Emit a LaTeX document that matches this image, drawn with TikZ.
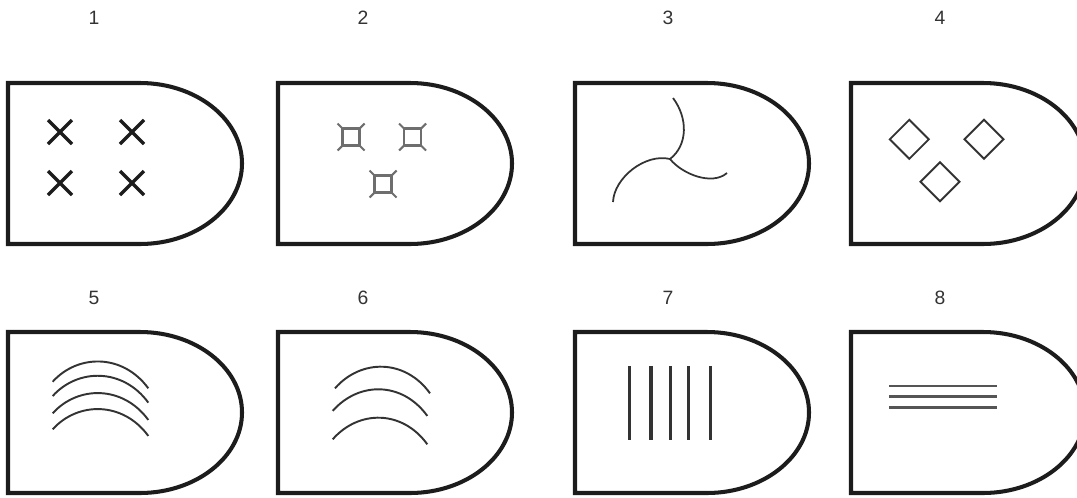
\documentclass[tikz,border=0pt]{standalone}
\usepackage{fontspec}
\setmainfont{Liberation Sans}
\definecolor{ink}{HTML}{1C1C1C}
\definecolor{dkgray}{HTML}{333333}
\definecolor{midgray}{HTML}{6E6E6E}
\definecolor{lngray}{HTML}{555555}

\begin{document}
\begin{tikzpicture}[
  x=0.02cm, y=-0.02cm,
  outline/.style={ink, line width=2.3pt, line join=miter},
  crossline/.style={ink, line width=1.9pt},
  squareline/.style={midgray, line width=1.2pt},
  thinline/.style={dkgray, line width=1.0pt},
  barline/.style={dkgray, line width=1.8pt},
  numlabel/.style={font=\fontsize{11}{13}\selectfont, text=dkgray},
  capsule/.pic={
    \draw[outline] (0,0) -- (132,0) .. controls (188,0) and (234,36) .. (234,80.5)
      .. controls (234,125) and (188,161) .. (132,161) -- (0,161) -- cycle;
  },
]

% Frame
\path[use as bounding box] (0,0) rectangle (1077,497);
\clip (0,0) rectangle (1077,497);

% Outlines
\foreach \sx in {8,278,575,851}
  \foreach \sy in {83,332}
    \pic at (\sx,\sy) {capsule};

% Numbers
\node[numlabel] (lab1) at (94,18) {1};
\node[numlabel] (lab2) at (363,18) {2};
\node[numlabel] (lab3) at (668,18) {3};
\node[numlabel] (lab4) at (940,18) {4};
\node[numlabel] (lab5) at (94,298) {5};
\node[numlabel] (lab6) at (363,298) {6};
\node[numlabel] (lab7) at (668,298) {7};
\node[numlabel] (lab8) at (940,298) {8};

% 1: crosses
\begin{scope}[shift={(8,83)}]
  \foreach \cx/\cy in {52/49,124/49,52/100,124/100}
    \draw[crossline] ({\cx-12},{\cy-12}) -- ({\cx+12},{\cy+12})
      ({\cx-12},{\cy+12}) -- ({\cx+12},{\cy-12});
\end{scope}

% 2: squares with corner ticks
\begin{scope}[shift={(278,83)}]
  \foreach \cx/\cy in {73/54,134.5/54,105/101} {
    \draw[squareline] ({\cx-8.5},{\cy-8.5}) rectangle ({\cx+8.5},{\cy+8.5});
    \foreach \dx/\dy in {1/1,1/-1,-1/1,-1/-1}
      \draw[squareline] ({\cx+8.5*\dx},{\cy+8.5*\dy}) -- ++({5*\dx},{5*\dy});
  }
\end{scope}

% 3: three arcs
\begin{scope}[shift={(575,83)}]
  \draw[thinline] (98,15) .. controls (113,35) and (113,62) .. (95,76);
  \draw[thinline] (95,76) .. controls (70,70) and (39,95) .. (38,119);
  \draw[thinline] (95,76) .. controls (107,91) and (137,103) .. (152,90);
\end{scope}

% 4: diamonds
\begin{scope}[shift={(851,83)}]
  \foreach \cx/\cy in {58.3/56.3,133/56.3,89/98.7}
    \draw[thinline, line width=1.1pt] ({\cx-19.5},\cy) -- (\cx,{\cy-19.5})
      -- ({\cx+19.5},\cy) -- (\cx,{\cy+19.5}) -- cycle;
\end{scope}

% 5: four bows
\begin{scope}[shift={(8,332)}]
  \foreach \py in {29.7,44,61.3,77.3}
    \draw[thinline, line width=1.1pt] (44.7,{\py+20}) .. controls (70,{\py-8}) and (115,{\py-8}) .. (140.3,{\py+26.6});
\end{scope}

% 6: three bows
\begin{scope}[shift={(278,332)}]
  \foreach \lx/\rx/\py in {57/152/34.7,54.7/149.3/57.3,54.7/149.3/85.7}
    \draw[thinline, line width=1.1pt] (\lx,{\py+21.6}) .. controls ({\lx+26},{\py-8}) and ({\rx-25},{\py-8}) .. (\rx,{\py+26.6});
\end{scope}

% 7: vertical bars
\begin{scope}[shift={(575,332)}]
  \foreach \bx in {54.3,76,95.3,113.3,135.7}
    \draw[barline] (\bx,34) -- (\bx,108);
\end{scope}

% 8: horizontal bars
\begin{scope}[shift={(851,332)}]
  \foreach \by in {54,64.7,75.7}
    \draw[barline, lngray, line width=1.6pt] (38.3,\by) -- (145.7,\by);
\end{scope}

\end{tikzpicture}
\end{document}
